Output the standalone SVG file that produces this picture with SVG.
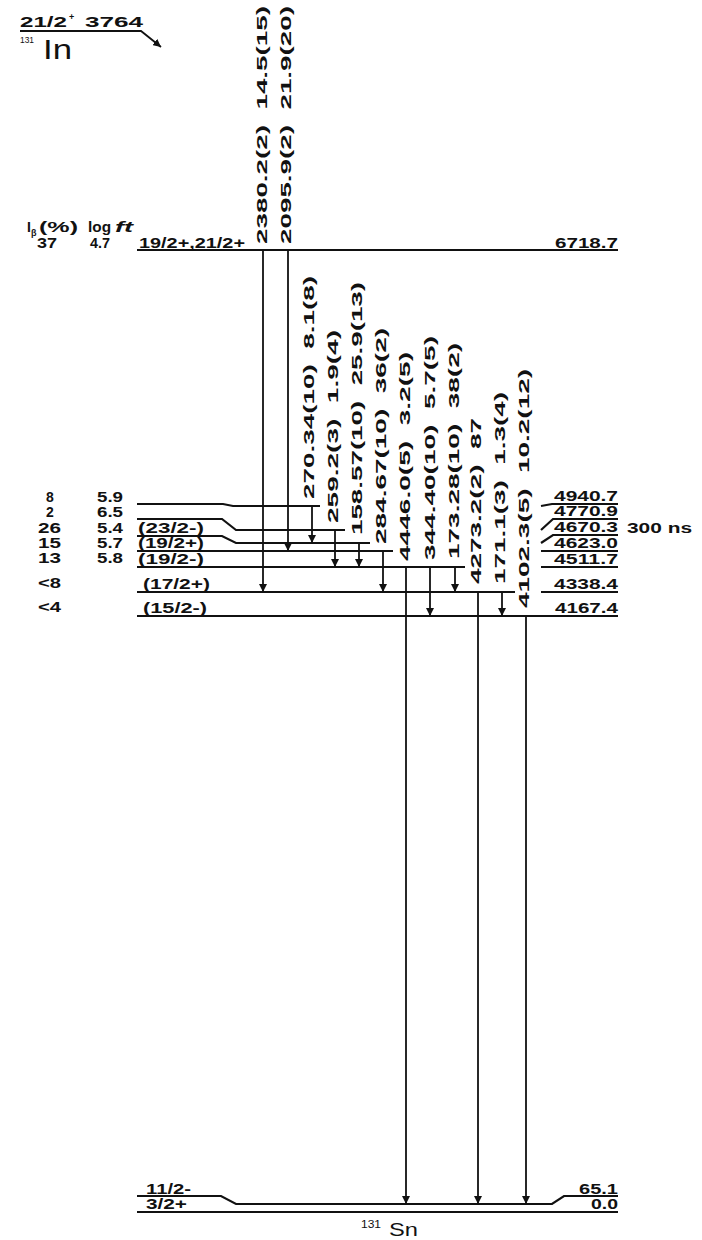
<svg xmlns="http://www.w3.org/2000/svg" width="702" height="1240" viewBox="0 0 702 1240">
<style>
.t{font-family:"Liberation Sans",Arial,sans-serif;font-weight:bold;font-size:14px;fill:#111}
.n{font-family:"Liberation Sans",Arial,sans-serif;font-weight:normal;fill:#111}
.lv{fill:none;stroke:#111;stroke-width:2.2}
.tr{stroke:#111;stroke-width:1.8;fill:none;marker-end:url(#ah)}
</style>
<defs>
<marker id="ah" markerUnits="userSpaceOnUse" markerWidth="8" markerHeight="8" refX="8" refY="4" orient="auto">
<path d="M0,0 L8,4 L0,8 z" fill="#111"/>
</marker>
</defs>
<rect width="702" height="1240" fill="#fff"/>

<g id="parent-131In">
<text class="t" x="20" y="27" textLength="47" lengthAdjust="spacingAndGlyphs">21/2</text>
<text class="t" x="69" y="20" style="font-size:9px">+</text>
<text class="t" x="85" y="27" textLength="58" lengthAdjust="spacingAndGlyphs">3764</text>
<path class="tr" d="M20,31 H141 L161,47"/>
<text class="n" x="20" y="43" style="font-size:9px" textLength="14" lengthAdjust="spacingAndGlyphs">131</text>
<text class="n" x="43" y="59" style="font-size:28px" textLength="29" lengthAdjust="spacingAndGlyphs">In</text>
</g>

<g id="header">
<text class="t" x="27" y="232">I</text>
<text class="t" x="31" y="236" style="font-size:9px">β</text>
<text class="t" x="39" y="232" textLength="39" lengthAdjust="spacingAndGlyphs">(%)</text>
<text class="t" x="88" y="232" textLength="23" lengthAdjust="spacingAndGlyphs">log</text>
<text class="t" x="115" y="232" style="font-style:italic" textLength="18" lengthAdjust="spacingAndGlyphs">ft</text>
</g>

<g id="level-6718.7">
<path class="lv" d="M137,250 H618"/>
<text class="t" x="37" y="248" textLength="20" lengthAdjust="spacingAndGlyphs">37</text>
<text class="t" x="90" y="248" textLength="20" lengthAdjust="spacingAndGlyphs">4.7</text>
<text class="t" x="139" y="248" textLength="106" lengthAdjust="spacingAndGlyphs">19/2+,21/2+</text>
<text class="t" x="555" y="248" textLength="63" lengthAdjust="spacingAndGlyphs">6718.7</text>
</g>

<g id="level-4940.7">
<path class="lv" d="M137,504 H223 L233,506 H320"/>
<path class="lv" d="M541,506 L552,504 H618"/>
<text class="t" x="46" y="502">8</text>
<text class="t" x="97" y="502" textLength="26" lengthAdjust="spacingAndGlyphs">5.9</text>
<text class="t" x="554" y="501" textLength="64" lengthAdjust="spacingAndGlyphs">4940.7</text>
</g>

<g id="level-4770.9">
<path class="lv" d="M137,519 H222 L236,530 H345"/>
<path class="lv" d="M541,530 L553,519 H618"/>
<text class="t" x="46" y="517">2</text>
<text class="t" x="97" y="517" textLength="26" lengthAdjust="spacingAndGlyphs">6.5</text>
<text class="t" x="554" y="516" textLength="64" lengthAdjust="spacingAndGlyphs">4770.9</text>
</g>

<g id="level-4670.3">
<path class="lv" d="M137,536 H222 L236,543 H370"/>
<path class="lv" d="M541,543 L553,535 H618"/>
<text class="t" x="38" y="533" textLength="23" lengthAdjust="spacingAndGlyphs">26</text>
<text class="t" x="97" y="533" textLength="26" lengthAdjust="spacingAndGlyphs">5.4</text>
<text class="t" x="138" y="533" textLength="66" lengthAdjust="spacingAndGlyphs">(23/2-)</text>
<text class="t" x="554" y="532" textLength="64" lengthAdjust="spacingAndGlyphs">4670.3</text>
<text class="t" x="627" y="533" textLength="65" lengthAdjust="spacingAndGlyphs">300 ns</text>
</g>

<g id="level-4623.0">
<path class="lv" d="M137,551 H393"/>
<path class="lv" d="M541,551 H618"/>
<text class="t" x="38" y="548" textLength="23" lengthAdjust="spacingAndGlyphs">15</text>
<text class="t" x="97" y="548" textLength="26" lengthAdjust="spacingAndGlyphs">5.7</text>
<text class="t" x="138" y="548" textLength="66" lengthAdjust="spacingAndGlyphs">(19/2+)</text>
<text class="t" x="554" y="548" textLength="64" lengthAdjust="spacingAndGlyphs">4623.0</text>
</g>

<g id="level-4511.7">
<path class="lv" d="M137,567 H465"/>
<path class="lv" d="M541,567 H618"/>
<text class="t" x="38" y="563" textLength="23" lengthAdjust="spacingAndGlyphs">13</text>
<text class="t" x="97" y="563" textLength="26" lengthAdjust="spacingAndGlyphs">5.8</text>
<text class="t" x="138" y="564" textLength="66" lengthAdjust="spacingAndGlyphs">(19/2-)</text>
<text class="t" x="554" y="564" textLength="64" lengthAdjust="spacingAndGlyphs">4511.7</text>
</g>

<g id="level-4338.4">
<path class="lv" d="M137,592 H515"/>
<path class="lv" d="M541,592 H618"/>
<text class="t" x="38" y="588" textLength="23" lengthAdjust="spacingAndGlyphs">&lt;8</text>
<text class="t" x="143" y="589" textLength="67" lengthAdjust="spacingAndGlyphs">(17/2+)</text>
<text class="t" x="554" y="589" textLength="64" lengthAdjust="spacingAndGlyphs">4338.4</text>
</g>

<g id="level-4167.4">
<path class="lv" d="M137,616 H618"/>
<text class="t" x="38" y="612" textLength="23" lengthAdjust="spacingAndGlyphs">&lt;4</text>
<text class="t" x="143" y="613" textLength="64" lengthAdjust="spacingAndGlyphs">(15/2-)</text>
<text class="t" x="555" y="613" textLength="63" lengthAdjust="spacingAndGlyphs">4167.4</text>
</g>

<g id="level-65.1">
<path class="lv" d="M137,1196 H221 L236,1204 H552 L564,1196 H618"/>
<text class="t" x="146" y="1194" textLength="45" lengthAdjust="spacingAndGlyphs">11/2-</text>
<text class="t" x="579" y="1194" textLength="39" lengthAdjust="spacingAndGlyphs">65.1</text>
</g>

<g id="level-0.0">
<path class="lv" d="M137,1212 H618"/>
<text class="t" x="146" y="1209" textLength="41" lengthAdjust="spacingAndGlyphs">3/2+</text>
<text class="t" x="591" y="1209" textLength="27" lengthAdjust="spacingAndGlyphs">0.0</text>
</g>

<g id="daughter-131Sn">
<text class="n" x="361" y="1228" style="font-size:10px" textLength="20" lengthAdjust="spacingAndGlyphs">131</text>
<text class="n" x="389" y="1236" style="font-size:19px" textLength="29" lengthAdjust="spacingAndGlyphs">Sn</text>
</g>

<g id="connectors">
<line class="tr" x1="263" y1="250" x2="263" y2="592"/>
<line class="tr" x1="288" y1="250" x2="288" y2="551"/>
<line class="tr" x1="312" y1="506" x2="312" y2="543"/>
<line class="tr" x1="335" y1="530" x2="335" y2="567"/>
<line class="tr" x1="359" y1="543" x2="359" y2="567"/>
<line class="tr" x1="383" y1="551" x2="383" y2="592"/>
<line class="tr" x1="406" y1="567" x2="406" y2="1204"/>
<line class="tr" x1="430" y1="567" x2="430" y2="616"/>
<line class="tr" x1="455" y1="567" x2="455" y2="592"/>
<line class="tr" x1="478" y1="592" x2="478" y2="1204"/>
<line class="tr" x1="502" y1="592" x2="502" y2="616"/>
<line class="tr" x1="526" y1="616" x2="526" y2="1204"/>

<text class="t" transform="translate(267,244) rotate(-90)" textLength="238" lengthAdjust="spacingAndGlyphs">2380.2(2)&#160;&#160;14.5(15)</text>
<text class="t" transform="translate(291,244) rotate(-90)" textLength="238" lengthAdjust="spacingAndGlyphs">2095.9(2)&#160;&#160;21.9(20)</text>
<text class="t" transform="translate(314,499) rotate(-90)" textLength="223" lengthAdjust="spacingAndGlyphs">270.34(10)&#160;&#160;8.1(8)</text>
<text class="t" transform="translate(338,523) rotate(-90)" textLength="193" lengthAdjust="spacingAndGlyphs">259.2(3)&#160;&#160;1.9(4)</text>
<text class="t" transform="translate(362,535) rotate(-90)" textLength="253" lengthAdjust="spacingAndGlyphs">158.57(10)&#160;&#160;25.9(13)</text>
<text class="t" transform="translate(386,544) rotate(-90)" textLength="216" lengthAdjust="spacingAndGlyphs">284.67(10)&#160;&#160;36(2)</text>
<text class="t" transform="translate(410,561) rotate(-90)" textLength="209" lengthAdjust="spacingAndGlyphs">4446.0(5)&#160;&#160;3.2(5)</text>
<text class="t" transform="translate(435,560) rotate(-90)" textLength="224" lengthAdjust="spacingAndGlyphs">344.40(10)&#160;&#160;5.7(5)</text>
<text class="t" transform="translate(459,559) rotate(-90)" textLength="216" lengthAdjust="spacingAndGlyphs">173.28(10)&#160;&#160;38(2)</text>
<text class="t" transform="translate(481,584) rotate(-90)" textLength="166" lengthAdjust="spacingAndGlyphs">4273.2(2)&#160;&#160;87</text>
<text class="t" transform="translate(505,584) rotate(-90)" textLength="192" lengthAdjust="spacingAndGlyphs">171.1(3)&#160;&#160;1.3(4)</text>
<text class="t" transform="translate(529,608) rotate(-90)" textLength="239" lengthAdjust="spacingAndGlyphs">4102.3(5)&#160;&#160;10.2(12)</text>
</g>
</svg>
